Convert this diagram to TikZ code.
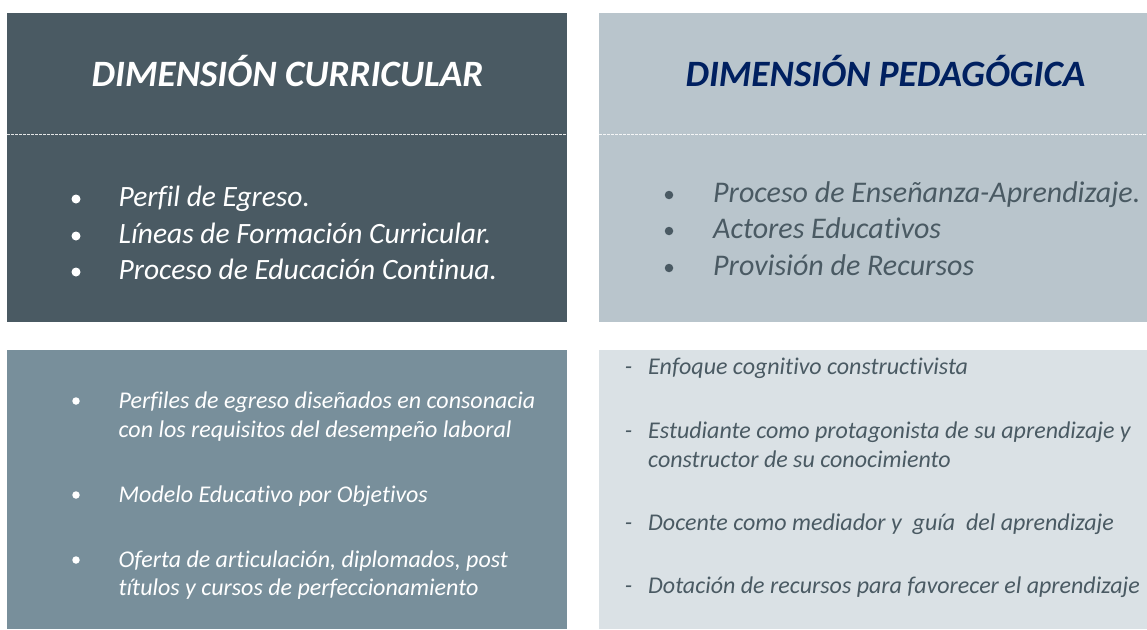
\documentclass[tikz,border=0pt]{standalone}
\usepackage{fontspec}
\setmainfont{Carlito}[Ligatures=NoCommon]
\definecolor{boxA}{HTML}{4A5A63}
\definecolor{boxB}{HTML}{B9C5CC}
\definecolor{boxC}{HTML}{788F9B}
\definecolor{boxD}{HTML}{DAE1E5}
\definecolor{navy}{HTML}{002060}
\definecolor{slatetext}{HTML}{4A5A63}
\tikzset{
  title/.style={inner sep=0pt, anchor=base, font=\fontsize{37.2}{44}\selectfont\bfseries\itshape},
  bigitem/.style={inner sep=0pt, anchor=base west, font=\fontsize{29.5}{36}\selectfont\itshape},
  bigitemr/.style={inner sep=0pt, anchor=base west, font=\fontsize{30}{36}\selectfont\itshape},
  smallitem/.style={inner sep=0pt, anchor=base west, font=\fontsize{24}{29}\selectfont\itshape},
  dot/.style={circle, inner sep=0pt, minimum size=#1, draw=none},
  divider/.style={white, line width=0.8pt, dash pattern=on 3pt off 1pt, opacity=0.85}
}
\begin{document}
\begin{tikzpicture}[x=1pt,y=-1pt]
\useasboundingbox (0,0) rectangle (1147,629);
% panels
\fill[boxA] (7,13) rectangle (567,322);
\fill[boxB] (599,13) rectangle (1147,322);
\fill[boxC] (7,350) rectangle (567,629);
\fill[boxD] (599,350) rectangle (1147,629);
\coordinate (dl1) at (7,134);
\coordinate (dl2) at (567,134);
\coordinate (dr1) at (599,134);
\coordinate (dr2) at (1147,134);
\draw[divider] (dl1) -- (dl2);
\draw[divider] (dr1) -- (dr2);
% titles
\node[title, text=white] (tc) at (287.5,86) {DIMENSIÓN CURRICULAR};
\node[title, text=navy] (tp) at (885.5,86) {DIMENSIÓN PEDAGÓGICA};
% top-left list
\node[dot=9pt, fill=white] (b1) at (76,199) {};
\node[dot=9pt, fill=white] (b2) at (76,236) {};
\node[dot=9pt, fill=white] (b3) at (76,272) {};
\node[bigitem, text=white] (c1) at (118.5,206) {Perfil de Egreso.};
\node[bigitem, text=white] (c2) at (118.5,243) {Líneas de Formación Curricular.};
\node[bigitem, text=white] (c3) at (118.5,279) {Proceso de Educación Continua.};
% top-right list
\node[dot=8.5pt, fill=slatetext] (p1) at (669,195) {};
\node[dot=8.5pt, fill=slatetext] (p2) at (669,231) {};
\node[dot=8.5pt, fill=slatetext] (p3) at (669,268) {};
\node[bigitemr, text=slatetext] (q1) at (713,202) {Proceso de Enseñanza-Aprendizaje.};
\node[bigitemr, text=slatetext] (q2) at (713,238) {Actores Educativos};
\node[bigitemr, text=slatetext] (q3) at (713,275) {Provisión de Recursos};
% bottom-left list
\node[dot=7.5pt, fill=white] (e1) at (76,401) {};
\node[dot=7.5pt, fill=white] (e2) at (76,495) {};
\node[dot=7.5pt, fill=white] (e3) at (76,560) {};
\node[smallitem, text=white] (f1a) at (118.5,408) {Perfiles de egreso diseñados en consonacia};
\node[smallitem, text=white] (f1b) at (118.5,437) {con los requisitos del desempeño laboral};
\node[smallitem, text=white] (f2) at (118.5,502) {Modelo Educativo por Objetivos};
\node[smallitem, text=white] (f3a) at (118.5,567) {Oferta de articulación, diplomados, post};
\node[smallitem, text=white] (f3b) at (118.5,595) {títulos y cursos de perfeccionamiento};
% bottom-right list
\node[smallitem, text=slatetext] (g1) at (648,374) {\llap{-\hspace{16pt}}Enfoque cognitivo constructivista};
\node[smallitem, text=slatetext] (g2a) at (648,438) {\llap{-\hspace{16pt}}Estudiante como protagonista de su aprendizaje y};
\node[smallitem, text=slatetext] (g2b) at (648,467) {constructor de su conocimiento};
\node[smallitem, text=slatetext] (g3) at (648,530) {\llap{-\hspace{16pt}}Docente como mediador y~ guía~ del aprendizaje};
\node[smallitem, text=slatetext] (g4) at (648,593) {\llap{-\hspace{16pt}}Dotación de recursos para favorecer el aprendizaje};
\end{tikzpicture}
\end{document}
